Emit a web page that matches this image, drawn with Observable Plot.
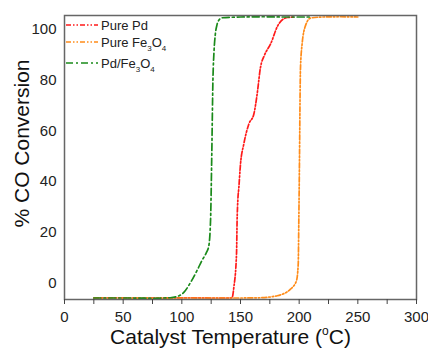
<!DOCTYPE html>
<html>
<head>
<meta charset="utf-8">
<script src="https://cdn.jsdelivr.net/npm/d3@7"></script>
<script src="https://cdn.jsdelivr.net/npm/@observablehq/plot@0.6"></script>
<style>
  html, body { margin: 0; padding: 0; background: #fff; }
  #chart { width: 428px; height: 351px; }
  svg { font-family: "Liberation Sans", Arial, sans-serif; }
</style>
</head>
<body>
<div id="chart"></div>
<script>
// Temperature (°C) and % CO conversion for each catalyst
const pdT    = [25, 45, 65, 85, 105, 125, 140, 142.9, 144.3, 146.6, 147.1, 147.7, 148.6, 150, 152.8, 157.1, 161.4, 164.2, 167, 170.5, 175.6, 181.8, 188.4, 195];
const pdY    = [-6, -5.9, -6.1, -6, -5.9, -6, -6, -5.8, -1.9, 11.3, 24.5, 32.4, 37.7, 46.9, 54.8, 62.7, 66.7, 74.6, 85, 90, 94.3, 101.6, 104.6, 105];
const feT    = [25, 50, 75, 100, 125, 150, 167, 181.3, 192.6, 197.7, 199.2, 199.7, 200.3, 200.8, 201.1, 202.5, 205.4, 209.7, 220, 235, 250];
const feY    = [-6, -6, -6.1, -6, -6, -6, -5.9, -5.1, -2.5, 0.8, 7.4, 24.5, 50, 75, 84.5, 94.3, 101.6, 104.6, 105, 105.1, 105];
const pdfeT  = [25, 50, 75, 90, 96, 101.7, 107.4, 113.1, 117.4, 121, 123, 124.5, 125.5, 126.5, 127.5, 128.5, 130, 132, 134.4, 150, 170, 190, 211];
const pdfeY  = [-6, -6, -6.1, -5.9, -5.4, -3.8, 0.1, 5, 9, 12, 14.6, 25, 50, 80, 92, 98, 102, 104, 104.7, 105, 105.1, 105, 105];

const seriesNames = ["Pure Pd", "Pure Fe3O4", "Pd/Fe3O4"];
const seriesColors = ["#ff1a1a", "#ff8c1a", "#1a8a1a"];
const seriesDash = ["5,2,1.5,2,1.5,2", "5,2,1.5,2,1.5,2", "7,3,2,3"];

const xTicksMinor = [0, 25, 50, 75, 100, 125, 150, 175, 200, 225, 250, 275, 300];
const xTickLabels = [0, 50, 100, 150, 200, 250, 300];
const yTickLabels = [0, 20, 40, 60, 80, 100];

const toRows = (T, Y) => T.map((t, i) => ({t, v: Y[i]}));
const allSeries = [toRows(pdT, pdY), toRows(feT, feY), toRows(pdfeT, pdfeY)];

const font = '"Liberation Sans", Arial, sans-serif';

const plot = Plot.plot({
  width: 428,
  height: 351,
  marginLeft: 64,
  marginRight: 12,
  marginTop: 15,
  marginBottom: 52,
  style: {fontFamily: font, background: "#fff", overflow: "visible"},
  x: {domain: [0, 300], label: null},
  y: {domain: [-6.6, 105.6], label: null},
  marks: [
    ...allSeries.map((rows, i) => Plot.line(rows, {
      x: "t", y: "v", stroke: seriesColors[i], strokeWidth: 1.7,
      strokeDasharray: seriesDash[i], curve: "monotone-x"
    })),
    Plot.frame({stroke: "#666", strokeWidth: 1.5}),
    Plot.axisX({ticks: xTicksMinor, tickSize: 5, tickFormat: () => "", stroke: "#444", label: null}),
    Plot.axisX({ticks: xTickLabels, tickSize: 0, tickPadding: 11.5, fontSize: 15, fill: "#222", label: null}),
    Plot.axisY({ticks: yTickLabels, tickSize: 0, tickPadding: 8, fontSize: 15, fill: "#222", label: null}),
    Plot.text(["Catalyst Temperature (oC)"], {frameAnchor: "bottom", dy: 38, dx: -10, fontSize: 21, fill: "#111", lineAnchor: "middle", textAnchor: "middle"}),
    Plot.text(["% CO Conversion"], {frameAnchor: "left", dx: -42, dy: -14, rotate: -90, fontSize: 21, fill: "#111", lineAnchor: "middle", textAnchor: "middle"})
  ]
});

document.getElementById("chart").appendChild(plot);

// superscript degree "o" in the x label
const svg = d3.select(plot);
svg.selectAll("text").each(function() {
  if (this.textContent === "Catalyst Temperature (oC)") {
    const t = d3.select(this);
    t.text("");
    t.append("tspan").text("Catalyst Temperature (");
    t.append("tspan").attr("font-size", 12).attr("dy", -9).text("o");
    t.append("tspan").attr("dy", 9).text("C)");
  }
});

// legend (top-left, inside frame)
const legend = svg.append("g").attr("font-family", font).attr("font-size", 13).attr("fill", "#222").attr("text-anchor", "start");
const legendY = [25, 42, 63];
const legendParts = [
  [["Pure Pd", null]],
  [["Pure Fe", null], ["3", "sub"], ["O", null], ["4", "sub"]],
  [["Pd/Fe", null], ["3", "sub"], ["O", null], ["4", "sub"]]
];
seriesNames.forEach((name, i) => {
  legend.append("line")
    .attr("x1", 66).attr("x2", 98).attr("y1", legendY[i]).attr("y2", legendY[i])
    .attr("stroke", seriesColors[i]).attr("stroke-width", 1.7)
    .attr("stroke-dasharray", seriesDash[i]);
  const txt = legend.append("text").attr("x", 101).attr("y", legendY[i] + 4.5).attr("text-anchor", "start");
  let shifted = false;
  legendParts[i].forEach(([s, kind]) => {
    const sp = txt.append("tspan").text(s);
    if (kind === "sub") { sp.attr("dy", 4).attr("font-size", 8); shifted = true; }
    else if (shifted) { sp.attr("dy", -4); shifted = false; }
  });
});
</script>
</body>
</html>
